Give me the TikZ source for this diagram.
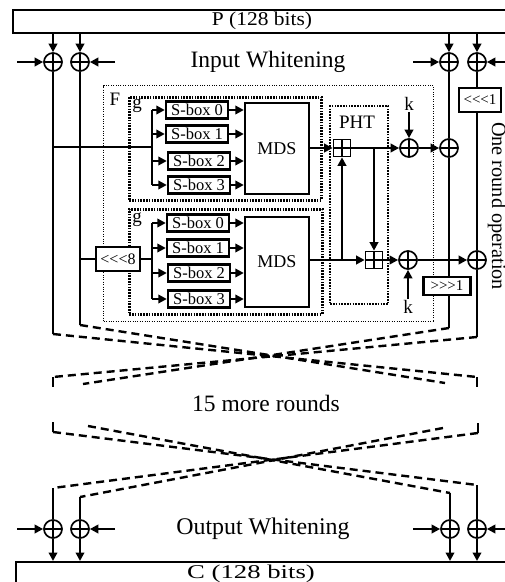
\documentclass[tikz,border=0pt]{standalone}
\usepackage{fontspec}
\setmainfont{Liberation Serif}
\usetikzlibrary{arrows.meta}
\newcommand\myfs[1]{\fontsize{#1}{#1}\selectfont}
\begin{document}
\begin{tikzpicture}[x=1pt,y=-1pt,
  xor/.style={circle, draw, line width=1.7pt, minimum size=18pt, inner sep=0pt,
    path picture={\draw[line width=1.7pt] (path picture bounding box.north) -- (path picture bounding box.south)
      (path picture bounding box.west) -- (path picture bounding box.east);}},
  bplus/.style={rectangle, draw, line width=1.7pt, minimum size=17pt, inner sep=0pt,
    path picture={\draw[line width=1.7pt] (path picture bounding box.north) -- (path picture bounding box.south)
      (path picture bounding box.west) -- (path picture bounding box.east);}},
  sbox/.style={draw, line width=2.4pt, minimum width=62pt, minimum height=17pt, inner sep=0pt, font=\myfs{16.5}},
  mdsbox/.style={draw, line width=2.4pt, minimum width=64pt, inner sep=0pt, font=\myfs{18}},
  rotbox/.style={draw, line width=2.2pt, fill=white, inner sep=0pt, font=\myfs{15}},
  arr/.style={line width=2.6pt, -{Triangle[length=8.5pt,width=8.5pt]}},
  wire/.style={line width=2pt},
  dline/.style={line width=2.4pt, dash pattern=on 8pt off 5pt},
  fbox/.style={draw, line width=1.4pt, dash pattern=on 1pt off 1.4pt, inner sep=0pt, anchor=north west},
  gbox/.style={draw, line width=2.5pt, dash pattern=on 1.6pt off 1.2pt, inner sep=0pt, anchor=north west},
  big/.style={font=\myfs{23.5}, inner sep=0pt},
  lbl/.style={font=\myfs{19}, inner sep=1pt}
]
\useasboundingbox (0,0) rectangle (505,582);
\clip (0,0) rectangle (505,582);

% ---------- plaintext box and input whitening ----------
\node[draw, line width=2.2pt, minimum width=508pt, minimum height=23pt, anchor=north west, inner sep=0pt] (Pbox) at (12,9) {};
\node[font=\myfs{19.5}, inner sep=0pt] (Ptxt) at (262,20.5) {\scalebox{1.1}[1]{P (128 bits)}};

\node[xor] (xa1) at (53,62) {};
\node[xor] (xa2) at (80,62) {};
\node[xor] (xa3) at (449,62) {};
\node[xor] (xa4) at (477,62) {};
\foreach \n in {xa1,xa2,xa3,xa4} \draw[arr] (Pbox.south -| \n) -- (\n.north);
\coordinate (ka1) at (17,62);
\coordinate (ka2) at (115,62);
\coordinate (ka3) at (413,62);
\coordinate (ka4) at (512,62);
\draw[arr] (ka1) -- (xa1.west);
\draw[arr] (ka2) -- (xa2.east);
\draw[arr] (ka3) -- (xa3.west);
\draw[arr] (ka4) -- (xa4.east);
\node[big] (inw) at (268,62) {Input Whitening};

% ---------- F function frames ----------
\node[fbox, minimum width=330pt, minimum height=236pt] (Fb) at (103,85) {};
\node[gbox, minimum width=192pt, minimum height=103pt] (g1) at (128,96) {};
\node[gbox, minimum width=193pt, minimum height=105pt] (g2) at (128,208) {};
\node[gbox, line width=2.2pt, minimum width=58pt, minimum height=198pt] (ph) at (329,105) {};
\node[lbl] (Flbl) at (115,99) {F};
\node[lbl] (g1lbl) at (137,106) {g};
\node[lbl] (g2lbl) at (137,220) {g};
\node[lbl] (phlbl) at (357,122) {PHT};

% ---------- S-boxes and MDS ----------
\node[sbox] (s10) at (197,110) {S-box 0};
\node[sbox] (s11) at (197,134) {S-box 1};
\node[sbox] (s12) at (199,161) {S-box 2};
\node[sbox] (s13) at (199,185) {S-box 3};
\node[sbox] (s20) at (198,223) {S-box 0};
\node[sbox] (s21) at (198,248) {S-box 1};
\node[sbox] (s22) at (199,273) {S-box 2};
\node[sbox] (s23) at (199,299) {S-box 3};
\node[mdsbox, minimum height=91pt] (m1) at (277,148.5) {MDS};
\node[mdsbox, minimum height=90pt] (m2) at (277,262) {MDS};

% ---------- main wires (left) ----------
\coordinate (e1) at (53,334);
\coordinate (e2) at (80,325);
\draw[wire] (xa1.south) -- (e1);
\draw[wire] (xa2.south) -- (e2);

% upper g input
\coordinate (b1) at (152,147);
\draw[wire] (xa1 |- b1) -- (b1);
\draw[wire] (b1 |- s10) -- (b1 |- s13);
\foreach \s in {s10,s11,s12,s13} {
  \draw[arr] (b1 |- \s) -- (\s.west);
  \draw[arr] (\s.east) -- (\s.east -| m1.west);
}
% lower g input
\node[rotbox, minimum width=44pt, minimum height=24pt, font=\myfs{16}] (r8) at (118,259) {<\kern0pt<\kern0pt<8};
\coordinate (b2) at (152,259);
\draw[wire] (xa2 |- r8) -- (r8.west);
\draw[wire] (r8.east) -- (b2);
\draw[wire] (b2 |- s20) -- (b2 |- s23);
\foreach \s in {s20,s21,s22,s23} {
  \draw[arr] (b2 |- \s) -- (\s.west);
  \draw[arr] (\s.east) -- (\s.east -| m2.west);
}

% ---------- PHT ----------
\node[bplus] (bp1) at (342,148) {};
\node[bplus] (bp2) at (374,260) {};
\draw[arr] (m1.east |- bp1) -- (bp1.west);
\draw[arr] (m2.east |- bp2) -- (bp2.west);
\draw[arr] (bp1 |- bp2) -- (bp1.south);
\draw[arr] (bp2 |- bp1) -- (bp2.north);

% ---------- key addition ----------
\node[xor] (kx1) at (409,148) {};
\node[xor] (kx2) at (408,260) {};
\node[lbl] (k1) at (409,104) {k};
\node[lbl] (k2) at (408,307) {k};
\draw[arr] (bp1.east) -- (kx1.west);
\draw[arr] (bp2.east) -- (kx2.west);
\draw[arr] (k1.south) -- (kx1.north);
\draw[arr] (k2.north) -- (kx2.south);

% ---------- right half ----------
\node[xor] (rx1) at (449,148) {};
\node[xor] (rx2) at (477,260) {};
\node[rotbox, minimum width=47pt, minimum height=18pt] (shr) at (447,286) {>\kern0pt>\kern0pt>1};
\node[rotbox, minimum width=42pt, minimum height=24pt] (shl) at (480,100) {<\kern0pt<\kern0pt<1};
\coordinate (e3) at (449,328);
\coordinate (e4) at (477,337);
\draw[wire] (xa3.south) -- (rx1.north);
\draw[wire] (rx1.south) -- (rx1 |- shr.north);
\draw[wire] (rx1 |- shr.south) -- (e3);
\draw[wire] (xa4.south) -- (xa4 |- shl.north);
\draw[wire] (xa4 |- shl.south) -- (rx2.north);
\draw[wire] (rx2.south) -- (e4);
\draw[arr] (kx1.east) -- (rx1.west);
\draw[arr] (kx2.east) -- (rx2.west);

\node[rotate=-90, font=\myfs{20.3}, anchor=base, inner sep=0pt] (rop) at (492,206) {One round operation};

% ---------- swap after round ----------
\coordinate (f1) at (53,377);  \coordinate (t1) at (53,387);
\coordinate (f4) at (477,377); \coordinate (t4) at (477,387);
\coordinate (f2) at (83,384);
\coordinate (f3) at (445,383);
\draw[dline] (e1) -- (f4);
\draw[dline] (e4) -- (f1);
\draw[dline] (e2) -- (f3);
\draw[dline] (e3) -- (f2);
\draw[wire] (f1) -- (t1);
\draw[wire] (f4) -- (t4);

\node[big] (more) at (266,403) {15 more rounds};

\coordinate (u1) at (53,422);  \coordinate (h1) at (53,432);
\coordinate (u4) at (478,423); \coordinate (h4) at (478,433);
\coordinate (h2) at (88,426);
\coordinate (h3) at (443,428);
\draw[wire] (u1) -- (h1);
\draw[wire] (u4) -- (h4);
\coordinate (j1) at (53,488);
\coordinate (j2) at (80,497);
\coordinate (j3) at (450,493);
\coordinate (j4) at (477,485);
\draw[dline] (h1) -- (j4);
\draw[dline] (h2) -- (j3);
\draw[dline] (h4) -- (j1);
\draw[dline] (h3) -- (j2);

% ---------- output whitening ----------
\node[xor] (xo1) at (53,529) {};
\node[xor] (xo2) at (80,529) {};
\node[xor] (xo3) at (450,529) {};
\node[xor] (xo4) at (477,529) {};
\draw[wire] (j1) -- (xo1.north);
\draw[wire] (j2) -- (xo2.north);
\draw[wire] (j3) -- (xo3.north);
\draw[wire] (j4) -- (xo4.north);
\coordinate (ko1) at (17,529);
\coordinate (ko2) at (115,529);
\coordinate (ko3) at (413,529);
\coordinate (ko4) at (512,529);
\draw[arr] (ko1) -- (xo1.west);
\draw[arr] (ko2) -- (xo2.east);
\draw[arr] (ko3) -- (xo3.west);
\draw[arr] (ko4) -- (xo4.east);
\node[big, font=\myfs{23.9}] (outw) at (263,529) {Output Whitening};

\node[draw, line width=2.2pt, minimum width=510pt, minimum height=40pt, anchor=north west, inner sep=0pt] (Cbox) at (15,561) {};
\foreach \n in {xo1,xo2,xo3,xo4} \draw[arr] (\n.south) -- (\n.south |- Cbox.north);
\node[font=\myfs{19.5}, inner sep=0pt] (Ctxt) at (251,573.5) {\scalebox{1.37}[1]{C (128 bits)}};
\end{tikzpicture}
\end{document}
